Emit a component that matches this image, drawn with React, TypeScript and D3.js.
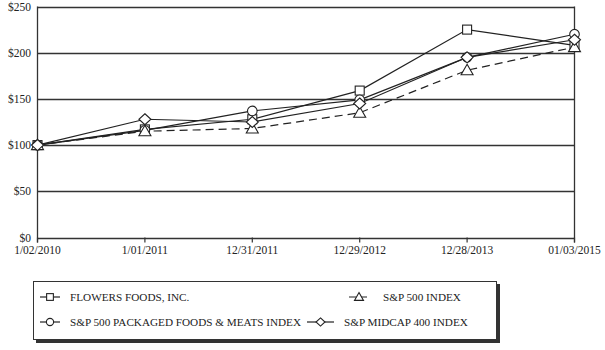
import React, { useEffect, useRef } from "react";
import * as d3 from "d3";

const dates = ["1/02/2010", "1/01/2011", "12/31/2011", "12/29/2012", "12/28/2013", "01/03/2015"];
const flowers = [100, 117, 128, 159, 225, 208];
const packaged = [100, 116, 137, 149, 195, 220];
const sp500 = [100, 115, 118, 135, 181, 206];
const midcap = [100, 128, 125, 145, 195, 214];
const yTicks = [0, 50, 100, 150, 200, 250];

const seriesList = [
  { name: "FLOWERS FOODS, INC.", values: flowers, marker: "square", dashed: false },
  { name: "S&P 500 PACKAGED FOODS & MEATS INDEX", values: packaged, marker: "circle", dashed: false },
  { name: "S&P 500 INDEX", values: sp500, marker: "triangle", dashed: true },
  { name: "S&P MIDCAP 400 INDEX", values: midcap, marker: "diamond", dashed: false },
];

const FONT = "'Liberation Serif', 'Times New Roman', serif";

function drawMarker(g: any, type: string, cx: number, cy: number, k = 1) {
  const common = (s: any) => s.attr("fill", "#fff").attr("stroke", "#222").attr("stroke-width", 1.1);
  if (type === "square") {
    common(g.append("rect").attr("x", cx - 4.5 * k).attr("y", cy - 4.5 * k).attr("width", 9 * k).attr("height", 9 * k));
  } else if (type === "circle") {
    common(g.append("circle").attr("cx", cx).attr("cy", cy).attr("r", 4.8 * k));
  } else if (type === "triangle") {
    common(g.append("path").attr("d", `M${cx},${cy - 6 * k}L${cx + 6 * k},${cy + 4.5 * k}L${cx - 6 * k},${cy + 4.5 * k}Z`));
  } else {
    common(g.append("path").attr("d", `M${cx},${cy - 5.5 * k}L${cx + 6 * k},${cy}L${cx},${cy + 5.5 * k}L${cx - 6 * k},${cy}Z`));
  }
}

export default function App() {
  const ref = useRef<SVGSVGElement>(null);

  useEffect(() => {
    const svg = d3.select(ref.current);
    svg.selectAll("*").remove();

    const left = 37.5, right = 574.5, top = 6.5, bottom = 237.5;
    const x = d3.scalePoint<string>().domain(dates).range([left, right]);
    const y = d3.scaleLinear().domain([0, 250]).range([bottom, top]);

    // gridlines
    svg.append("g")
      .selectAll("line")
      .data(yTicks)
      .enter()
      .append("line")
      .attr("x1", left)
      .attr("x2", right)
      .attr("y1", d => Math.round(y(d)) + 0.5)
      .attr("y2", d => Math.round(y(d)) + 0.5)
      .attr("stroke", "#333")
      .attr("stroke-width", 1.3);

    // axis lines
    svg.append("line").attr("x1", left).attr("x2", left).attr("y1", top).attr("y2", bottom + 5)
      .attr("stroke", "#333").attr("stroke-width", 1.3);
    svg.append("line").attr("x1", right).attr("x2", right).attr("y1", top).attr("y2", bottom + 5)
      .attr("stroke", "#333").attr("stroke-width", 1.3);

    // x ticks + labels
    const xg = svg.append("g");
    dates.forEach(d => {
      xg.append("line").attr("x1", x(d)!).attr("x2", x(d)!).attr("y1", bottom).attr("y2", bottom + 5)
        .attr("stroke", "#333").attr("stroke-width", 1.2);
      xg.append("text").attr("x", x(d)!).attr("y", bottom + 16).attr("text-anchor", "middle")
        .attr("font-family", FONT).attr("font-size", 11.5).attr("fill", "#222").text(d);
    });

    // y labels
    svg.append("g")
      .selectAll("text")
      .data(yTicks)
      .enter()
      .append("text")
      .attr("x", 31)
      .attr("y", d => y(d) + 4)
      .attr("text-anchor", "end")
      .attr("font-family", FONT)
      .attr("font-size", 11.5)
      .attr("fill", "#222")
      .text(d => "$" + d);

    const line = d3.line<number>()
      .x((_, i) => x(dates[i])!)
      .y(d => y(d));

    seriesList.forEach(s => {
      svg.append("path")
        .datum(s.values)
        .attr("fill", "none")
        .attr("stroke", "#222")
        .attr("stroke-width", 1.2)
        .attr("stroke-dasharray", s.dashed ? "8,5" : null)
        .attr("d", line);
    });
    seriesList.forEach(s => {
      const g = svg.append("g");
      s.values.forEach((v, i) => drawMarker(g, s.marker, x(dates[i])!, y(v)));
    });

    // legend
    const lg = svg.append("g");
    lg.append("rect").attr("x", 36).attr("y", 284).attr("width", 464).attr("height", 59).attr("fill", "#333");
    lg.append("rect").attr("x", 33.5).attr("y", 281.5).attr("width", 463).attr("height", 58)
      .attr("fill", "#fff").attr("stroke", "#333").attr("stroke-width", 1);

    const items = [
      { s: seriesList[0], lx: 40, ly: 297, tx: 70 },
      { s: seriesList[2], lx: 349, ly: 297, tx: 383 },
      { s: seriesList[1], lx: 40, ly: 322, tx: 70 },
      { s: seriesList[3], lx: 307, ly: 322, tx: 344 },
    ];
    items.forEach(({ s, lx, ly, tx }) => {
      const w = s.marker === "diamond" ? 27 : 20;
      lg.append("line").attr("x1", lx).attr("x2", lx + w).attr("y1", ly).attr("y2", ly)
        .attr("stroke", "#222").attr("stroke-width", 1.2)
        .attr("stroke-dasharray", s.dashed ? "7,4" : null);
      drawMarker(lg, s.marker, lx + w / 2, ly, 0.75);
      lg.append("text").attr("x", tx)
        .attr("y", ly + 4)
        .attr("font-family", FONT).attr("font-size", 11.2).attr("fill", "#222").text(s.name);
    });
  }, []);

  return (
    <svg ref={ref} width={605} height={350} style={{ position: "absolute", left: 0, top: 0, background: "#fff" }} />
  );
}
